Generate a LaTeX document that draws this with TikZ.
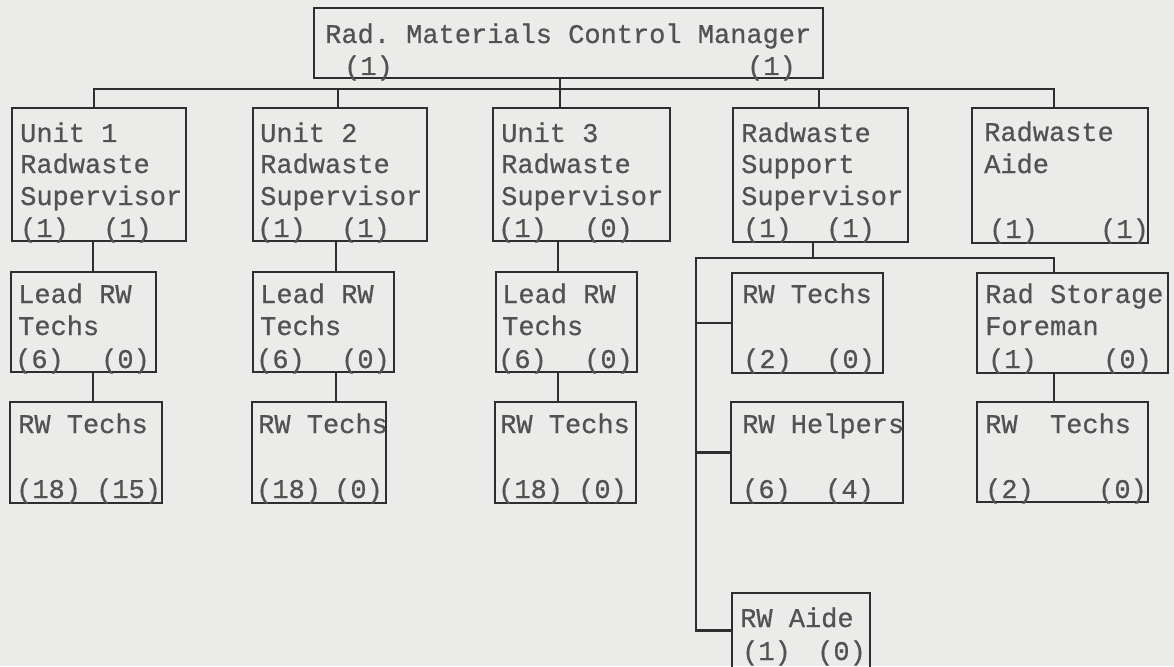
\documentclass[tikz,border=0pt]{standalone}
\usepackage{fontspec}
\newfontfamily\tw[UprightFeatures={FakeBold=0.6}]{Liberation Mono}
\definecolor{bgc}{HTML}{EBEBE9}
\definecolor{ink}{HTML}{525252}
\definecolor{ln}{HTML}{2E2E2E}
\newcommand{\wt}[4]{\node[txt] (#1) at (#2,#3) {#4};}
\newcommand{\bxx}[6]{\node[box, minimum width=#4pt, minimum height=#5pt] (#1) at (#2,#3) {};}
\begin{document}
\begin{tikzpicture}[x=1pt,y=-1pt,
  box/.style={draw=ln, line width=2.7pt, anchor=north west, inner sep=0pt, outer sep=0pt},
  txt/.style={text=ink, anchor=base west, inner sep=0pt, font=\tw\fontsize{27}{33}\selectfont},
  conn/.style={draw=ln, line width=2.7pt, line join=miter}]
\fill[bgc] (0,0) rectangle (1174,666);
\useasboundingbox (0,0) rectangle (1174,666);
% boxes
\bxx{mgr}{314}{8}{509}{70}{}
\bxx{u1}{12}{108}{174}{133}{}
\bxx{u2}{253}{108}{174}{133}{}
\bxx{u3}{493}{108}{177}{133}{}
\bxx{u4}{733}{108}{175}{134}{}
\bxx{u5}{972}{108}{176}{135}{}
\bxx{l1}{11}{272}{145}{100}{}
\bxx{l2}{253}{272}{141}{100}{}
\bxx{l3}{496}{272}{141}{100}{}
\bxx{rt}{732}{273}{151}{100}{}
\bxx{rs}{977}{273}{191}{100}{}
\bxx{t1}{10}{402}{152}{101}{}
\bxx{t2}{252}{402}{134}{101}{}
\bxx{t3}{495}{402}{141}{101}{}
\bxx{hp}{731}{402}{172}{101}{}
\bxx{st}{977}{402}{171}{100}{}
\bxx{ra}{732}{593}{138}{75}{}
% connectors
\coordinate (busL) at (94,89);
\coordinate (busR) at (1054,89);
\coordinate (s2) at (338,89);
\coordinate (s3) at (560,89);
\coordinate (s4) at (819,89);
\draw[conn] (busL |- u1.north) -- (busL) -- (busR) -- (busR |- u5.north);
\draw[conn] (s2) -- (s2 |- u2.north);
\draw[conn] (s3 |- mgr.south) -- (s3 |- u3.north);
\draw[conn] (s4) -- (s4 |- u4.north);
\coordinate (d1) at (93,0);
\coordinate (d2) at (336,0);
\coordinate (d3) at (558,0);
\draw[conn] (d1 |- u1.south) -- (d1 |- l1.north);
\draw[conn] (d1 |- l1.south) -- (d1 |- t1.north);
\draw[conn] (d2 |- u2.south) -- (d2 |- l2.north);
\draw[conn] (d2 |- l2.south) -- (d2 |- t2.north);
\draw[conn] (d3 |- u3.south) -- (d3 |- l3.north);
\draw[conn] (d3 |- l3.south) -- (d3 |- t3.north);
\coordinate (bs) at (813,258);
\coordinate (bl) at (696,258);
\coordinate (br) at (1054,258);
\draw[conn] (bs |- u4.south) -- (bs);
\draw[conn] (br |- rs.north) -- (br) -- (bl) -- (bl |- ra.west) -- (ra.west);
\draw[conn] (bl |- rt.west) -- (rt.west);
\draw[conn] (bl |- hp.west) -- (hp.west);
\draw[conn] (br |- rs.south) -- (br |- st.north);
% texts
\wt{mgra}{325}{43}{Rad.\ Materials Control Manager}
\wt{mgrb}{344}{75}{(1)}
\wt{mgrc}{747}{75}{(1)}
\wt{u1a}{20}{142}{Unit 1}
\wt{u1b}{20}{173}{Radwaste}
\wt{u1c}{20}{205}{Supervisor}
\wt{u1d}{20}{237}{(1)}
\wt{u1e}{103}{237}{(1)}
\wt{u2a}{260}{142}{Unit 2}
\wt{u2b}{260}{173}{Radwaste}
\wt{u2c}{260}{205}{Supervisor}
\wt{u2d}{257}{237}{(1)}
\wt{u2e}{341}{237}{(1)}
\wt{u3a}{501}{142}{Unit 3}
\wt{u3b}{501}{173}{Radwaste}
\wt{u3c}{501}{205}{Supervisor}
\wt{u3d}{498}{237}{(1)}
\wt{u3e}{584}{237}{(0)}
\wt{u4a}{741}{142}{Radwaste}
\wt{u4b}{741}{173}{Support}
\wt{u4c}{741}{205}{Supervisor}
\wt{u4d}{743}{237}{(1)}
\wt{u4e}{826}{237}{(1)}
\wt{u5a}{984}{141}{Radwaste}
\wt{u5b}{984}{173}{Aide}
\wt{u5d}{989}{238}{(1)}
\wt{u5e}{1100}{238}{(1)}
\wt{l1a}{18}{303}{Lead RW}
\wt{l1b}{18}{335}{Techs}
\wt{l1d}{15}{368}{(6)}
\wt{l1e}{101}{368}{(0)}
\wt{l2a}{260}{303}{Lead RW}
\wt{l2b}{260}{335}{Techs}
\wt{l2d}{256}{368}{(6)}
\wt{l2e}{341}{368}{(0)}
\wt{l3a}{502}{303}{Lead RW}
\wt{l3b}{502}{335}{Techs}
\wt{l3d}{498}{368}{(6)}
\wt{l3e}{584}{368}{(0)}
\wt{rta}{742}{303}{RW Techs}
\wt{rtd}{743}{368}{(2)}
\wt{rte}{826}{368}{(0)}
\wt{rsa}{985}{303}{Rad Storage}
\wt{rsb}{985}{335}{Foreman}
\wt{rsd}{988}{368}{(1)}
\wt{rse}{1103}{368}{(0)}
\wt{t1a}{18}{433}{RW Techs}
\wt{t1d}{16}{498}{(18)}
\wt{t1e}{96}{498}{(15)}
\wt{t2a}{258}{433}{RW Techs}
\wt{t2d}{256}{498}{(18)}
\wt{t2e}{334}{498}{(0)}
\wt{t3a}{500}{433}{RW Techs}
\wt{t3d}{498}{498}{(18)}
\wt{t3e}{578}{498}{(0)}
\wt{hpa}{742}{433}{RW Helpers}
\wt{hpd}{742}{498}{(6)}
\wt{hpe}{825}{498}{(4)}
\wt{sta}{985}{433}{RW\ \ Techs}
\wt{std}{985}{498}{(2)}
\wt{ste}{1098}{498}{(0)}
\wt{raa}{740}{627}{RW Aide}
\wt{rad}{742}{660}{(1)}
\wt{rae}{817}{660}{(0)}
\end{tikzpicture}
\end{document}
